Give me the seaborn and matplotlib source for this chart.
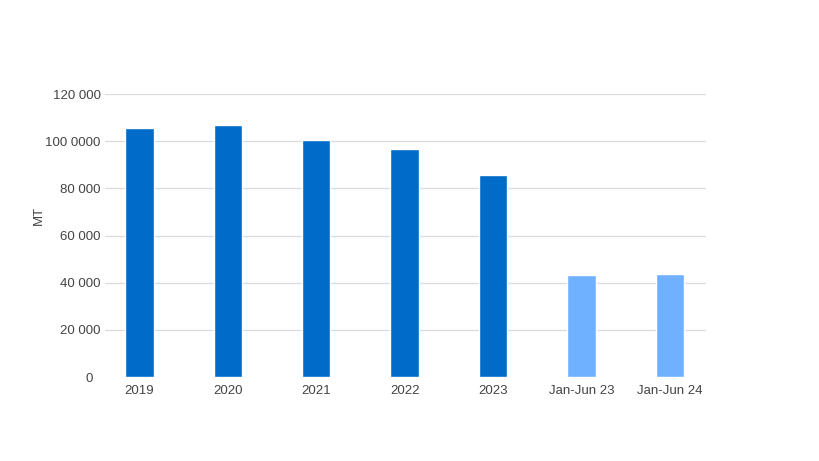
import pandas as pd
import matplotlib.pyplot as plt
import seaborn as sns

periods = ['2019', '2020', '2021', '2022', '2023', 'Jan-Jun 23', 'Jan-Jun 24']
volume_mt = [105700, 107000, 100700, 96800, 85500, 43400, 43800]
kind = ['year', 'year', 'year', 'year', 'year', 'half', 'half']
ytick_values = [0, 20000, 40000, 60000, 80000, 100000, 120000]
ytick_labels = ['0', '20 000', '40 000', '60 000', '80 000', '100 0000', '120 000']

df = pd.DataFrame({'period': periods, 'mt': volume_mt, 'kind': kind})

sns.set_theme(style='white')
plt.rcParams['font.family'] = ['Liberation Sans', 'DejaVu Sans']

fig = plt.figure(figsize=(8.2, 4.61), dpi=100)
ax = fig.add_axes([0.128, 0.182, 0.733, 0.614])

# gridlines above zero only, the baseline is not drawn
for v in ytick_values[1:]:
    ax.axhline(v, color='#dcdcdc', linewidth=0.9, zorder=0)

sns.barplot(data=df, x='period', y='mt', hue='kind',
            palette={'year': '#006bc8', 'half': '#6fb0ff'},
            saturation=1, width=0.32, dodge=False, legend=False,
            ax=ax, zorder=3)

ax.set_ylim(0, 120000)
ax.set_xlim(-0.39, 6.41)
ax.set_yticks(ytick_values)
ax.set_yticklabels(ytick_labels)
ax.tick_params(axis='both', length=0, labelsize=9.5, labelcolor='#444444')
ax.tick_params(axis='x', pad=6)
ax.tick_params(axis='y', pad=3)
ax.yaxis.get_major_ticks()[0].set_pad(9)
ax.set_xlabel('')
ax.set_ylabel('MT', fontsize=9.5, color='#444444')
ax.yaxis.set_label_coords(-0.1, 0.572)
sns.despine(ax=ax, left=True, bottom=True)

plt.savefig('out.png', dpi=100)
